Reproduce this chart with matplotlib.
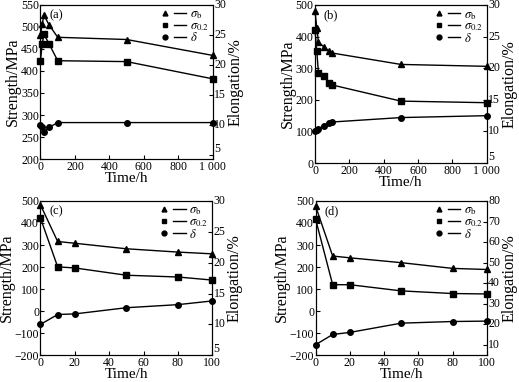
import matplotlib
matplotlib.use("Agg")
import matplotlib.pyplot as plt
from matplotlib.lines import Line2D
from matplotlib.legend_handler import HandlerTuple

plt.rcParams['font.family'] = 'Liberation Serif'
plt.rcParams['mathtext.fontset'] = 'stix'
plt.rcParams['font.size'] = 8.5

# (a)
t_a = [0, 10, 20, 50, 100, 500, 1000]
sb_a = [482, 506, 526, 504, 476, 471, 435]
s02_a = [423, 461, 483, 461, 423, 421, 382]
d_a = [10.0, 9.6, 8.8, 9.6, 10.4, 10.4, 10.4]

# (b)
t_b = [0, 10, 20, 50, 80, 100, 500, 1000]
sb_b = [480, 428, 383, 368, 355, 348, 312, 306]
s02_b = [422, 355, 285, 277, 253, 247, 196, 191]
d_b = [10.0, 10.3, 10.4, 10.9, 11.4, 11.5, 12.2, 12.5]

# (c)
t_c = [0, 10, 20, 50, 80, 100]
sb_c = [482, 316, 308, 283, 268, 260]
s02_c = [422, 201, 196, 163, 155, 141]
d_c = [10.0, 11.6, 11.7, 12.7, 13.2, 13.8]

# (d)
t_d = [0, 10, 20, 50, 80, 100]
sb_d = [477, 250, 242, 220, 194, 189]
s02_d = [418, 120, 120, 92, 80, 78]
d_d = [10.1, 15.1, 16.1, 20.6, 21.4, 21.6]

panels = [
    ('(a)', t_a, sb_a, s02_a, d_a, (0, 1000), (200, 550), (4.3, 30),
     [0, 200, 400, 600, 800, 1000], ['0', '200', '400', '600', '800', '1 000'],
     [200, 250, 300, 350, 400, 450, 500, 550], [5, 10, 15, 20, 25, 30],
     [0.078, 0.583, 0.332, 0.405]),
    ('(b)', t_b, sb_b, s02_b, d_b, (0, 1000), (0, 500), (5, 30),
     [0, 200, 400, 600, 800, 1000], ['0', '200', '400', '600', '800', '1 000'],
     [0, 100, 200, 300, 400, 500], [5, 10, 15, 20, 25, 30],
     [0.607, 0.573, 0.331, 0.414]),
    ('(c)', t_c, sb_c, s02_c, d_c, (0, 100), (-200, 500), (5, 30),
     [0, 20, 40, 60, 80, 100], ['0', '20', '40', '60', '80', '100'],
     [-200, -100, 0, 100, 200, 300, 400, 500], [5, 10, 15, 20, 25, 30],
     [0.078, 0.070, 0.331, 0.404]),
    ('(d)', t_d, sb_d, s02_d, d_d, (0, 100), (-200, 500), (5, 80),
     [0, 20, 40, 60, 80, 100], ['0', '20', '40', '60', '80', '100'],
     [-200, -100, 0, 100, 200, 300, 400, 500], [10, 20, 30, 40, 50, 60, 70, 80],
     [0.608, 0.070, 0.330, 0.404]),
]

fig = plt.figure(figsize=(5.19, 3.82), dpi=100)

for tag, t, sb, s02, d, xl, yl, yr, xt, xtl, ytl, ytr, pos in panels:
    ax = fig.add_axes(pos)
    ax2 = ax.twinx()
    ax.plot(t, sb, color='black', lw=1, marker='^', ms=4, clip_on=False, zorder=3)
    ax.plot(t, s02, color='black', lw=1, marker='s', ms=3.8, clip_on=False, zorder=3)
    ax2.plot(t, d, color='black', lw=1, marker='o', ms=4, clip_on=False, zorder=3)
    ax.set_xlim(*xl)
    ax.set_ylim(*yl)
    ax2.set_ylim(*yr)
    ax.set_xticks(xt)
    ax.set_xticklabels(xtl)
    ax.set_yticks(ytl)
    ax2.set_yticks(ytr)
    ax.tick_params(direction='in', length=3, pad=1, labelsize=8.5)
    ax2.tick_params(direction='in', length=3, pad=1, labelsize=8.5)
    for lab in ax2.get_yticklabels():
        lab.set_va('bottom' if lab.get_text() == '5' else 'center')
    ax.set_xlabel('Time/h', fontsize=11, labelpad=-0.5)
    ax.set_ylabel('Strength/MPa', fontsize=11.5, labelpad=0)
    ax2.set_ylabel('Elongation/%', fontsize=11.5, labelpad=1)
    ax.text(0.05, 0.97, tag, transform=ax.transAxes, ha='left', va='top', fontsize=9)

    mk = dict(color='black', ls='none', ms=3.5)
    ln = dict(color='black', lw=1)
    handles = [
        (Line2D([], [], marker='^', **mk), Line2D([], [], **ln)),
        (Line2D([], [], marker='s', **mk), Line2D([], [], **ln)),
        (Line2D([], [], marker='o', **mk), Line2D([], [], **ln)),
    ]
    labels = [r'$\sigma_{\rm b}$', r'$\sigma_{0.2}$', r'$\delta$']
    ax2.legend(handles, labels, loc='upper right', frameon=False, fontsize=9,
               handler_map={tuple: HandlerTuple(ndivide=2, pad=0.2)},
               handlelength=2.2, handletextpad=0.3, labelspacing=-0.1,
               borderaxespad=0.1, borderpad=0.2)

fig.savefig('out.png', dpi=100)
